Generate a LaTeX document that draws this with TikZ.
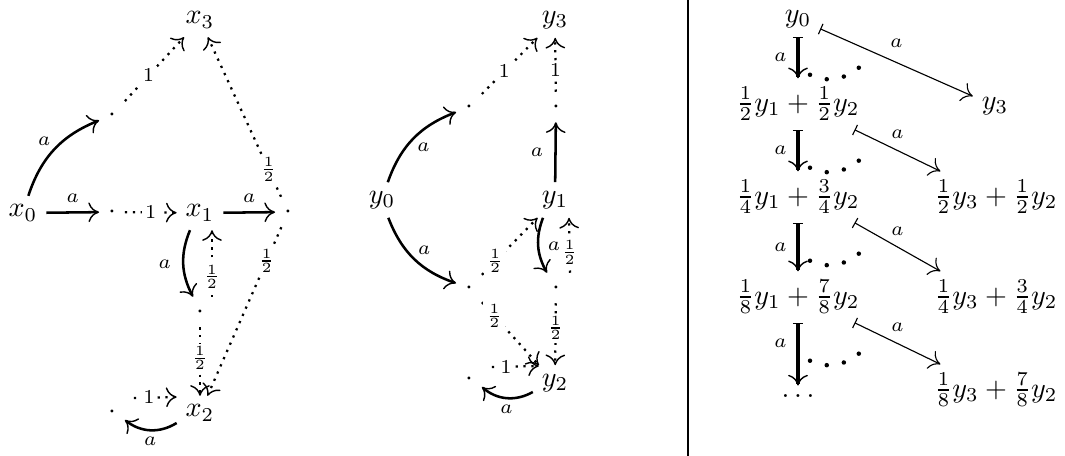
\documentclass[tikz,border=0pt]{standalone}
\usetikzlibrary{arrows.meta}

\begin{document}
\begin{tikzpicture}[
    x=0.0125cm, y=0.0125cm,
    obj/.style={inner sep=3pt},
    lbl/.style={font=\scriptsize, inner sep=1pt},
    onlbl/.style={font=\scriptsize, inner sep=1pt, fill=white},
    mv/.style={line width=0.9pt,
               -{Computer Modern Rightarrow[length=3.8pt, width=7pt, line width=0.5pt]}},
    pr/.style={line width=0.8pt, dotted,
               -{Computer Modern Rightarrow[length=3.8pt, width=7pt, line width=0.5pt]}},
    bigmap/.style={line width=1.1pt,
               {Bar[width=3.6pt, line width=0.5pt]}-{Computer Modern Rightarrow[length=3.8pt, width=7pt, line width=0.5pt]}},
    smallmap/.style={line width=0.4pt,
               {Bar[width=4pt]}-{Computer Modern Rightarrow[length=3.8pt, width=7pt]}},
    trail/.style={line width=1.6pt, line cap=round, dash pattern=on 0pt off 6.2pt},
  ]
    \useasboundingbox (0,0) rectangle (1065,-456);

    \node[obj] (x3) at (200,-20) {$x_3$};
    \node[obj] (p1) at (112,-115) {$\cdot$};
    \node[obj] (x0) at (23,-213) {$x_0$};
    \node[obj] (p2) at (112,-212) {$\cdot$};
    \node[obj] (x1) at (200,-213) {$x_1$};
    \node[obj] (p3) at (288,-212) {$\cdot$};
    \node[obj] (p4) at (200,-312) {$\cdot$};
    \node[obj] (x2) at (200,-413) {$x_2$};
    \node[obj] (p5) at (112,-412) {$\cdot$};

    \draw[mv] (x0) to[bend left=25] node[lbl, above left] {$a$} (p1);
    \draw[pr] (p1) -- node[onlbl, pos=0.4] {$1$} (x3);
    \draw[mv] (x0) -- node[lbl, above=2pt] {$a$} (p2);
    \draw[pr] (p2) -- node[onlbl] {$1$} (x1);
    \draw[mv] (x1) -- node[lbl, above=2pt] {$a$} (p3);
    \draw[pr] (p3) -- node[onlbl, pos=0.17] {$\frac12$} (x3);
    \draw[pr] (p3) -- node[onlbl, pos=0.2] {$\frac12$} (x2);
    \draw[mv] ([shift={(-10,0)}]x1.south) to[bend right=25] node[lbl, left=3pt] {$a$} ([shift={(-7,0)}]p4.north);
    \draw[pr] ([shift={(12,0)}]p4.north) -- node[onlbl, pos=0.3] {$\frac12$} ([shift={(12,0)}]x1.south);
    \draw[pr] (p4) -- node[onlbl, pos=0.45] {$\frac12$} (x2);
    \draw[pr] ([shift={(9,14)}]p5.east) -- node[onlbl, pos=0.35] {$1$} ([shift={(0,16)}]x2.west);
    \draw[mv] ([shift={(0,-10)}]x2.west) to[bend left=35] node[lbl, below=1pt] {$a$} ([shift={(0,-8)}]p5.east);

    \node[obj] (y3) at (555,-20) {$y_3$};
    \node[obj] (q1) at (469,-107) {$\cdot$};
    \node[obj] (q2) at (556,-107) {$\cdot$};
    \node[obj] (y0) at (382,-200) {$y_0$};
    \node[obj] (y1) at (555,-200) {$y_1$};
    \node[obj] (q3) at (469,-288) {$\cdot$};
    \node[obj] (q4) at (556,-288) {$\cdot$};
    \node[obj] (q5) at (469,-379) {$\cdot$};
    \node[obj] (y2) at (555,-383) {$y_2$};

    \draw[mv] (y0) to[bend left=25] node[lbl, below right] {$a$} (q1);
    \draw[pr] (q1) -- node[onlbl, pos=0.4] {$1$} (y3);
    \draw[mv] (y1) -- node[lbl, left=3pt] {$a$} (q2);
    \draw[pr] (q2) -- node[onlbl, pos=0.4] {$1$} (y3);
    \draw[mv] (y0) to[bend right=25] node[lbl, above right] {$a$} (q3);
    \draw[pr] (q3) -- node[onlbl, pos=0.24] {$\frac12$} (y1);
    \draw[pr] (q3) -- node[onlbl, pos=0.22] {$\frac12$} (y2);
    \draw[mv] ([shift={(-12,0)}]y1.south) to[bend right=25] node[lbl, right=2pt] {$a$} ([shift={(-9,0)}]q4.north);
    \draw[pr] ([shift={(14,0)}]q4.north) -- node[onlbl, pos=0.37] {$\frac12$} ([shift={(14,0)}]y1.south);
    \draw[pr] (q4) -- node[onlbl, pos=0.4] {$\frac12$} (y2);
    \draw[pr] ([shift={(10,12)}]q5.east) -- node[onlbl, pos=0.3] {$1$} ([shift={(6,17)}]y2.west);
    \draw[mv] ([shift={(0,-9)}]y2.west) to[bend left=35] node[lbl, below=1pt] {$a$} ([shift={(0,-8)}]q5.east);

    \draw[line width=0.5pt] (688,0) -- (688,-456);

    \node[obj] (r0) at (798,-19) {$y_0$};
    \node[obj] (r1) at (798,-104) {$\frac12y_1+\frac12y_2$};
    \node[obj] (r2) at (798,-197) {$\frac14y_1+\frac34y_2$};
    \node[obj] (r3) at (798,-297) {$\frac18y_1+\frac78y_2$};
    \node[obj] (r4) at (798,-396) {$\ldots$};
    \node[obj] (s1) at (995,-106) {$y_3$};
    \node[obj] (s2) at (996,-197) {$\frac12y_3+\frac12y_2$};
    \node[obj] (s3) at (996,-297) {$\frac14y_3+\frac34y_2$};
    \node[obj] (s4) at (996,-390) {$\frac18y_3+\frac78y_2$};

    \draw[bigmap] (r0) -- node[lbl, left=2.5pt] {$a$} (r1);
    \draw[bigmap] (r1) -- node[lbl, left=2.5pt] {$a$} (r2);
    \draw[bigmap] (r2) -- node[lbl, left=2.5pt] {$a$} (r3);
    \draw[bigmap] (r3) -- node[lbl, left=2.5pt, pos=0.32] {$a$} (r4);

    \draw[smallmap] (r0) -- node[lbl, above=4pt] {$a$} (s1);
    \draw[smallmap] ([shift={(-14,0)}]r1.south east) -- node[lbl, above=3pt] {$a$} ([shift={(15,0)}]s2.north west);
    \draw[smallmap] ([shift={(-14,0)}]r2.south east) -- node[lbl, above=3pt] {$a$} ([shift={(15,0)}]s3.north west);
    \draw[smallmap] ([shift={(-14,0)}]r3.south east) -- node[lbl, above=3pt] {$a$} ([shift={(15,0)}]s4.north west);

    \draw[trail] ([shift={(12,-38)}]r0.south) .. controls +(25,-12) and +(-12,-14) .. ([shift={(70,-22)}]r0.south);
    \draw[trail] ([shift={(12,-38)}]r1.south) .. controls +(25,-12) and +(-12,-14) .. ([shift={(70,-22)}]r1.south);
    \draw[trail] ([shift={(12,-38)}]r2.south) .. controls +(25,-12) and +(-12,-14) .. ([shift={(70,-22)}]r2.south);
    \draw[trail] ([shift={(12,-38)}]r3.south) .. controls +(25,-12) and +(-12,-14) .. ([shift={(70,-22)}]r3.south);
\end{tikzpicture}
\end{document}
